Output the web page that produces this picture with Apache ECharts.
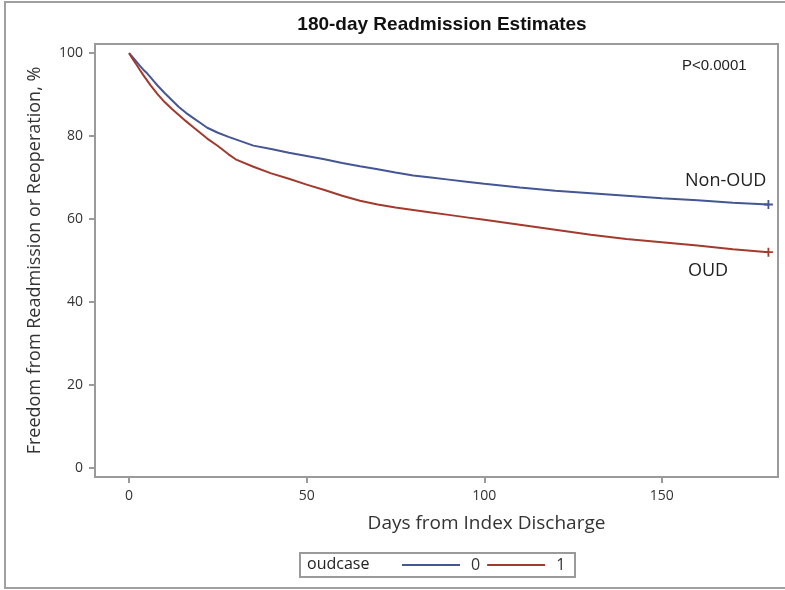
<!DOCTYPE html>
<html>
<head>
<meta charset="utf-8">
<script src="https://cdn.jsdelivr.net/npm/echarts@6/dist/echarts.min.js"></script>
<style>
html,body{margin:0;padding:0;background:#fff;}
#chart{width:785px;height:590px;}
</style>
</head>
<body>
<div id="chart"></div>
<script>
// ---- data ----
var days = [0,1,2,3,4,5,6,7,8,10,12,14,16,18,20,22,25,28,30,35,40,45,50,55,60,65,70,75,80,85,90,95,100,110,120,130,140,150,160,170,180];
var nonOUD = [100,99,98,97,96,95.2,94.2,93.2,92.2,90.4,88.7,87,85.6,84.4,83.2,82,80.8,79.8,79.2,77.7,76.9,76,75.2,74.4,73.5,72.7,72,71.2,70.5,70,69.5,69,68.5,67.6,66.8,66.2,65.6,65,64.5,63.9,63.5];
var oud    = [100,98.6,97.3,96,94.7,93.5,92.3,91.2,90.1,88.2,86.6,85.1,83.6,82.2,80.8,79.4,77.6,75.6,74.4,72.6,71,69.7,68.3,67,65.6,64.4,63.5,62.8,62.2,61.6,61,60.4,59.8,58.6,57.4,56.2,55.2,54.4,53.6,52.7,52];
var xTicks = [0,50,100,150];
var yTicks = [0,20,40,60,80,100];
var seriesNames = ['0','1'];
var titleText = '180-day Readmission Estimates';
var xName = 'Days from Index Discharge';
var yName = 'Freedom from Readmission or Reoperation, %';

var plus = 'path://M4,0H6V4H10V6H6V10H4V6H0V4H4Z';
function build(vals){
  return days.map(function(d,i){
    var item = {value:[d, vals[i]]};
    if(i === days.length-1){ item.symbol = plus; item.symbolSize = 9; }
    return item;
  });
}
var font = 'Liberation Sans, Arial, sans-serif';
var font2 = '"Open Sans", "Liberation Sans", sans-serif';
var chart = echarts.init(document.getElementById('chart'));
chart.setOption({
  animation:false,
  backgroundColor:'#fff',
  title:{text:titleText,left:437,textAlign:'center',top:10,
    textStyle:{fontFamily:font,fontSize:19,fontWeight:'bold',color:'#111'}},
  grid:{left:95,right:7,top:44,bottom:113,show:true,borderColor:'#9a9a9a',borderWidth:2},
  xAxis:{type:'value',min:-9.6,max:182.7,
    name:xName,nameLocation:'middle',nameGap:37,
    nameTextStyle:{fontFamily:font2,fontSize:19,color:'#333',padding:[0,0,0,100]},
    axisLine:{show:false,onZero:false},splitLine:{show:false},
    axisTick:{show:true,customValues:xTicks,length:6,lineStyle:{color:'#9a9a9a',width:2}},
    axisLabel:{customValues:xTicks,fontFamily:font2,fontSize:14,color:'#333',margin:12}},
  yAxis:{type:'value',min:-2.2,max:102.2,
    name:yName,nameLocation:'middle',nameGap:51,
    nameTextStyle:{fontFamily:font2,fontSize:18,color:'#333',padding:[0,0,0,0]},
    axisLine:{show:false,onZero:false},splitLine:{show:false},
    axisTick:{show:true,customValues:yTicks,length:6,lineStyle:{color:'#9a9a9a',width:2}},
    axisLabel:{customValues:yTicks,fontFamily:font2,fontSize:14,color:'#333',margin:12}},
  legend:{data:seriesNames,left:402,top:557,padding:0,icon:'rect',itemWidth:58,itemHeight:2,itemGap:7,
    textStyle:{fontFamily:font2,fontSize:16,color:'#333',padding:[0,4,0,6]}},
  series:[
    {name:seriesNames[0],type:'line',data:build(nonOUD),symbol:'none',
      color:'#445694',lineStyle:{width:2,color:'#445694'},itemStyle:{color:'#445694'}},
    {name:seriesNames[1],type:'line',data:build(oud),symbol:'none',
      color:'#A23A2E',lineStyle:{width:2,color:'#A23A2E'},itemStyle:{color:'#A23A2E'}}
  ],
  graphic:[
    {type:'rect',shape:{x:5,y:2,width:800,height:586},style:{fill:'none',stroke:'#a0a0a0',lineWidth:2},silent:true},
    {type:'rect',shape:{x:300,y:553,width:275,height:24},style:{fill:'none',stroke:'#9a9a9a',lineWidth:2},silent:true},
    {type:'text',left:307,top:556,style:{text:'oudcase',font:'16px "Open Sans", sans-serif',fill:'#222'}},
    {type:'text',left:682,top:58,style:{text:'P<0.0001',font:'15px Liberation Sans, Arial, sans-serif',fill:'#222'}},
    {type:'text',left:685,top:172,style:{text:'Non-OUD',font:'18px "Open Sans", sans-serif',fill:'#222'}},
    {type:'text',left:688,top:262,style:{text:'OUD',font:'18px "Open Sans", sans-serif',fill:'#222'}}
  ]
});
</script>
</body>
</html>
